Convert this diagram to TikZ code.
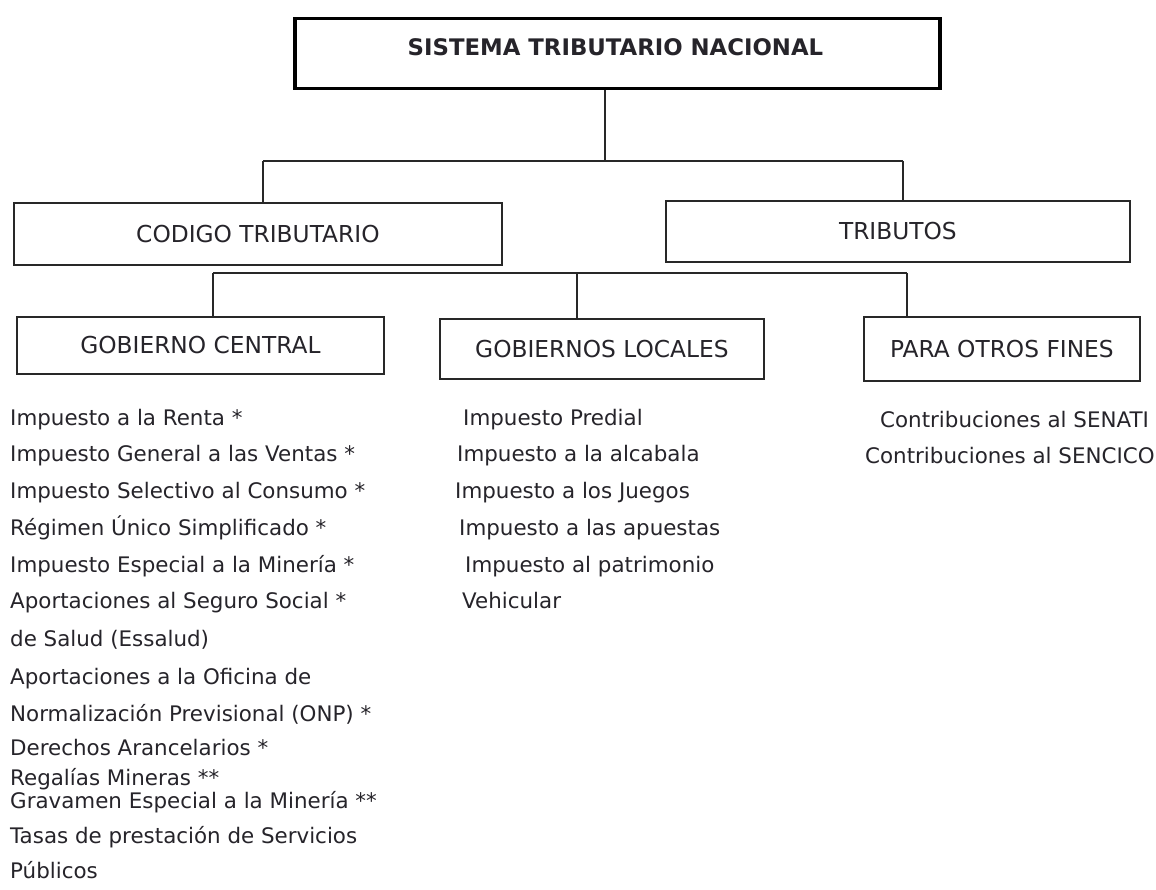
\documentclass[tikz,border=0pt]{standalone}
\usepackage{fontspec}
\setmainfont{DejaVu Sans}
\definecolor{txt}{RGB}{38,36,42}
\definecolor{ln}{RGB}{40,40,40}
\begin{document}
\begin{tikzpicture}[x=1pt,y=-1pt,
  boxlabel/.style={draw=ln,line width=1.8pt,anchor=north west,inner sep=0pt,text=txt,
    font=\fontsize{23.3}{28}\selectfont},
  titlebox/.style={draw=black,line width=3.5pt,anchor=north west,inner sep=0pt,text=txt},
  item/.style={anchor=base west,inner sep=0pt,text=txt,font=\fontsize{21.4}{26}\selectfont},
  conn/.style={draw=ln,line width=1.8pt}]
\useasboundingbox (0,0) rectangle (1156,890);
\fill[white] (0,0) rectangle (1156,890);
% boxes
\node[titlebox,minimum width=645pt,minimum height=70pt] (stn) at (293,17) {};
\node[text=txt,font=\bfseries\fontsize{22.8}{27}\selectfont] (stnt) at (615.5,47) {SISTEMA TRIBUTARIO NACIONAL};
\node[boxlabel,minimum width=488pt,minimum height=62pt] (cod) at (13,202) {CODIGO TRIBUTARIO};
\node[boxlabel,minimum width=464pt,minimum height=61pt] (tri) at (665,200) {TRIBUTOS};
\node[boxlabel,minimum width=367pt,minimum height=57pt] (gc) at (16,316) {GOBIERNO CENTRAL};
\node[boxlabel,minimum width=324pt,minimum height=60pt] (gl) at (439,318) {GOBIERNOS LOCALES};
\node[boxlabel,minimum width=276pt,minimum height=64pt] (pof) at (863,316) {PARA OTROS FINES};
% junctions
\coordinate (j0) at (605,161);
\coordinate (jl) at (263,161);
\coordinate (jr) at (903,161);
\coordinate (k0) at (577,273);
\coordinate (kl) at (213,273);
\coordinate (kr) at (907,273);
% connectors
\draw[conn] (stn.south -| j0) -- (j0);
\draw[conn] (jl) -- (jr);
\draw[conn] (jl) -- (jl |- cod.north);
\draw[conn] (jr) -- (jr |- tri.north);
\draw[conn] (kl) -- (kr);
\draw[conn] (kl) -- (kl |- gc.north);
\draw[conn] (k0) -- (k0 |- gl.north);
\draw[conn] (kr) -- (kr |- pof.north);
% gobierno central list
\node[item] (a1) at (10,425) {Impuesto a la Renta *};
\node[item] (a2) at (10,461.7) {Impuesto General a las Ventas *};
\node[item] (a3) at (10,498) {Impuesto Selectivo al Consumo *};
\node[item] (a4) at (10,535) {Régimen Único Simplificado *};
\node[item] (a5) at (10,572) {Impuesto Especial a la Minería *};
\node[item] (a6) at (10,608) {Aportaciones al Seguro Social *};
\node[item] (a7) at (10,646) {de Salud (Essalud)};
\node[item] (a8) at (10,684) {Aportaciones a la Oficina de};
\node[item] (a9) at (10,721) {Normalización Previsional (ONP) *};
\node[item] (a10) at (10,755) {Derechos Arancelarios *};
\node[item,align=left,font=\fontsize{21.4}{16}\selectfont] (a11) at (10,808) {Regalías Mineras **\\Gravamen Especial a la Minería **};
\node[item] (a13) at (10,843) {Tasas de prestación de Servicios};
\node[item] (a14) at (10,878) {Públicos};
% gobiernos locales list
\node[item] (b1) at (463,425) {Impuesto Predial};
\node[item] (b2) at (457,461.7) {Impuesto a la alcabala};
\node[item] (b3) at (455,498) {Impuesto a los Juegos};
\node[item] (b4) at (459,535) {Impuesto a las apuestas};
\node[item] (b5) at (465,572) {Impuesto al patrimonio};
\node[item] (b6) at (462,608) {Vehicular};
% otros fines list
\node[item] (c1) at (880,427) {Contribuciones al SENATI};
\node[item] (c2) at (865,463) {Contribuciones al SENCICO};
\end{tikzpicture}
\end{document}
